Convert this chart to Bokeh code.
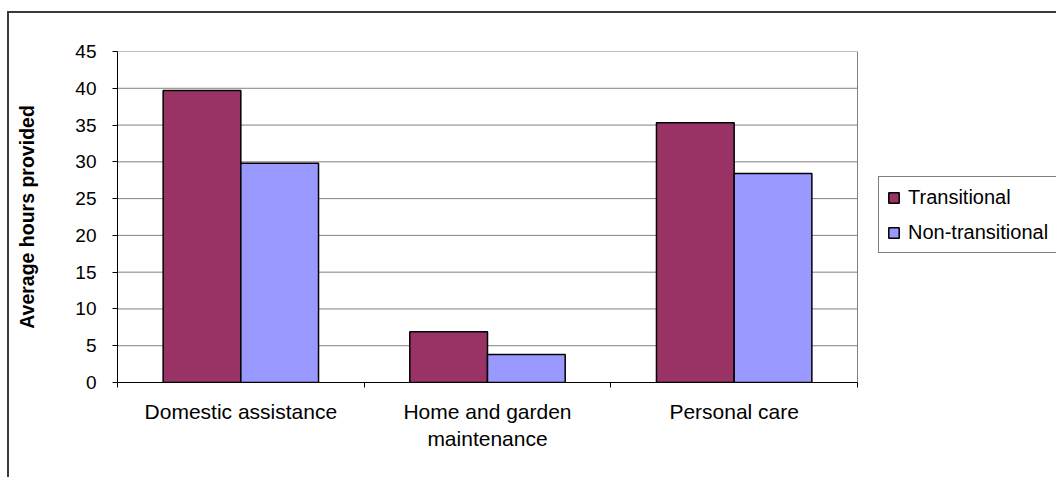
from bokeh.plotting import figure
from bokeh.models import (FixedTicker, Range1d, Legend, LegendItem, ColumnDataSource,
                          InlineStyleSheet)
from bokeh.embed import file_html
from bokeh.resources import INLINE

# Chart data
categories = ["Domestic assistance", "Home and garden\nmaintenance", "Personal care"]
series_names = ["Transitional", "Non-transitional"]
transitional = [39.7, 6.9, 35.3]
non_transitional = [29.8, 3.8, 28.4]
y_ticks = [0, 5, 10, 15, 20, 25, 30, 35, 40, 45]

colors = ["#993366", "#9999FF"]
FONT = "Liberation Sans"
GRID = "#808080"

n_cat = len(categories)
# The frame runs to the right edge of the canvas so the legend can sit beside
# the bars; the plot area itself (x = 0..n_cat) keeps its own width.
plot_left, plot_right, canvas_w = 117, 857, 1056
x_end = n_cat * (canvas_w - plot_left) / (plot_right - plot_left)

# thin frame around the whole chart (left and top edges fall inside the page)
frame_css = InlineStyleSheet(css="""
:host { position: relative; }
:host::after {
  content: "";
  position: absolute;
  left: 7px; top: 11px; right: 0; bottom: 0;
  border-left: 2px solid #3a3a3a;
  border-top: 2px solid #3a3a3a;
  pointer-events: none;
}
""")

p = figure(width=canvas_w, height=477, output_backend="svg", toolbar_location=None,
           x_range=Range1d(0, x_end), y_range=Range1d(0, y_ticks[-1]),
           min_border_left=plot_left, min_border_right=0, min_border_top=51,
           min_border_bottom=95, stylesheets=[frame_css])
p.background_fill_color = "white"
p.border_fill_color = "white"
p.outline_line_color = None
p.xgrid.grid_line_color = None
p.ygrid.grid_line_color = None

# horizontal gridlines and right edge of the plot area
gy = y_ticks[1:]
p.segment(x0=[0] * len(gy), x1=[n_cat] * len(gy), y0=gy, y1=gy,
          line_color=GRID, line_width=1)
p.segment(x0=[n_cat], x1=[n_cat], y0=[0], y1=[y_ticks[-1]],
          line_color=GRID, line_width=1)

# category centres and bar positions
centers = [i + 0.5 for i in range(n_cat)]
bar_w = 0.315
src_t = ColumnDataSource(dict(x=[c - bar_w / 2 for c in centers], top=transitional))
src_n = ColumnDataSource(dict(x=[c + bar_w / 2 for c in centers], top=non_transitional))

r_t = p.vbar(x="x", top="top", width=bar_w, bottom=0, source=src_t,
             fill_color=colors[0], line_color="black", line_width=1.5)
r_n = p.vbar(x="x", top="top", width=bar_w, bottom=0, source=src_n,
             fill_color=colors[1], line_color="black", line_width=1.5)

# x axis: labels at category centres, tick marks at category boundaries
xa = p.xaxis[0]
xa.bounds = (0, n_cat)
xa.ticker = FixedTicker(ticks=centers, minor_ticks=list(range(n_cat + 1)))
xa.major_label_overrides = {c: lab for c, lab in zip(centers, categories)}
xa.major_tick_out = 0
xa.major_tick_in = 0
xa.minor_tick_out = 5
xa.minor_tick_in = 0
xa.minor_tick_line_color = "black"
xa.axis_line_color = "black"
xa.major_label_text_font = FONT
xa.major_label_text_font_size = "21px"
xa.major_label_text_color = "black"
xa.major_label_standoff = 12

# y axis
ya = p.yaxis[0]
ya.ticker = FixedTicker(ticks=y_ticks)
ya.minor_tick_line_color = None
ya.major_tick_out = 5
ya.major_tick_in = 0
ya.major_tick_line_color = "black"
ya.axis_line_color = "black"
ya.major_label_text_font = FONT
ya.major_label_text_font_size = "19px"
ya.major_label_text_color = "black"
ya.major_label_standoff = 16
ya.axis_label = "Average hours provided"
ya.axis_label_text_font = FONT
ya.axis_label_text_font_style = "bold"
ya.axis_label_text_font_size = "19.5px"
ya.axis_label_text_color = "black"
ya.axis_label_standoff = 34

# legend beside the plot area
legend = Legend(items=[LegendItem(label=series_names[0], renderers=[r_t]),
                       LegendItem(label=series_names[1], renderers=[r_n])],
                location=(plot_right - plot_left + 21, 129))
legend.label_text_font = FONT
legend.label_text_font_size = "20px"
legend.label_text_color = "black"
legend.glyph_width = 13
legend.glyph_height = 13
legend.label_height = 24
legend.label_width = 150
legend.label_standoff = 8
legend.spacing = 11
legend.padding = 8
legend.margin = 0
legend.border_line_color = "black"
legend.border_line_width = 1
legend.background_fill_color = "white"
p.add_layout(legend, "center")

open("out.html", "w").write(file_html(p, INLINE))
